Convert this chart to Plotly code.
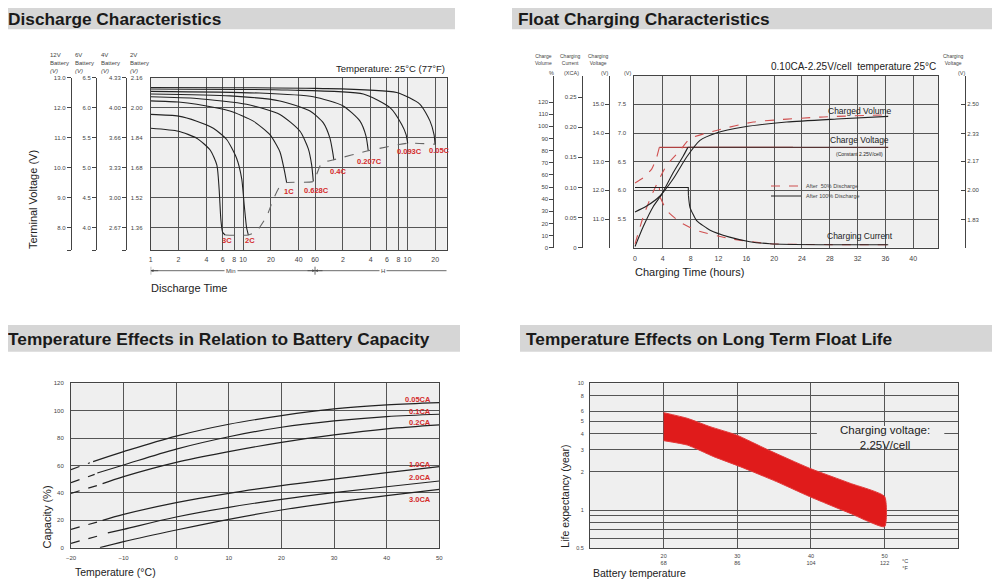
import numpy as np
import plotly.graph_objects as go

FONT = "Liberation Sans, Arial, sans-serif"
BG = "#efefef"
GRID = "#555555"
INK = "#222222"
RED = "#d42b2b"
RDASH = "#d05050"

# the page puts the plot 8px in from the corner, so the figure is 8px smaller
W, H, OFF = 992, 573, 8

# ---------------- discharge characteristics (2V/cell scale) ----------------
v2_ticks = [2.16, 2.00, 1.84, 1.68, 1.52, 1.36]
v12_labels = ["13.0", "12.0", "11.0", "10.0", "9.0", "8.0"]
v6_labels = ["6.5", "6.0", "5.5", "5.0", "4.5", "4.0"]
v4_labels = ["4.33", "4.00", "3.66", "3.33", "3.00", "2.67"]
time_ticks = [1, 2, 4, 6, 8, 10, 20, 40, 60, 120, 240, 360, 480, 600, 1200]
time_labels = ["1", "2", "4", "6", "8", "10", "20", "40", "60", "2", "4", "6", "8", "10", "20"]

dis_curves = {
    "3C": ([1, 2, 3.15, 4.4, 5.2, 5.5, 5.75, 6.0, 6.4],
           [1.89, 1.874, 1.837, 1.774, 1.693, 1.566, 1.40, 1.335, 1.32]),
    "2C": ([1, 2, 3.15, 4.76, 6.64, 8.5, 9.66, 10.3, 10.9, 11.4],
           [1.964, 1.955, 1.928, 1.89, 1.83, 1.73, 1.62, 1.476, 1.36, 1.32]),
    "1C": ([1, 2, 3.15, 7.2, 12.9, 19.5, 25, 27.7, 29.6],
           [2.036, 2.03, 2.018, 1.982, 1.928, 1.856, 1.765, 1.675, 1.60]),
    "0.628C": ([1, 3.15, 10.9, 25, 41.3, 50.8, 55.2, 57.5],
               [2.058, 2.049, 2.018, 1.964, 1.874, 1.78, 1.693, 1.606]),
    "0.4C": ([1, 7.2, 25, 53, 73.8, 87, 93, 96],
             [2.073, 2.063, 2.036, 1.982, 1.919, 1.837, 1.765, 1.72]),
    "0.207C": ([1, 15, 57.5, 121, 184, 214, 226],
               [2.087, 2.078, 2.058, 2.009, 1.928, 1.847, 1.77]),
    "0.093C": ([1, 30, 200, 389, 520, 580, 604],
               [2.10, 2.094, 2.073, 2.00, 1.91, 1.856, 1.81]),
    "0.05C": ([1, 60, 459, 821, 1054, 1164, 1194],
              [2.108, 2.103, 2.081, 2.018, 1.928, 1.856, 1.805]),
}
end_t = [6.4, 11.4, 14, 18, 21.2, 25, 29.6, 57.5, 62, 71, 96, 226, 604, 1194]
end_v = [1.32, 1.32, 1.34, 1.42, 1.51, 1.58, 1.60, 1.606, 1.64, 1.705, 1.722, 1.77, 1.81, 1.805]
dis_label_t = [6.65, 11.9, 31.2, 62.6, 105.6, 232, 629, 1328]
dis_label_v = [1.292, 1.292, 1.555, 1.559, 1.658, 1.712, 1.765, 1.773]
dis_label_txt = ["3C", "2C", "1C", "0.628C", "0.4C", "0.207C", "0.093C", "0.05C"]

# ---------------- float charging characteristics ----------------
hours_ticks = list(range(0, 44, 4))
vol_t_100 = [0, 1.68, 3.59, 5.5, 7.43, 9.34, 11.7, 15.6, 21.8, 29, 36.4]
vol_100 = [29.4, 34.3, 42.6, 56.8, 74.7, 88.4, 94.5, 99.4, 103.5, 106, 108.2]
vol_t_50 = [0, 1.25, 2.6, 4.55, 6.47, 7.9, 11.7, 17, 26.6, 36.4]
vol_50 = [3, 26.6, 45.9, 67.8, 80.1, 89.8, 96.6, 103.5, 107.6, 109.5]
volt_t_100 = [0, 1.19, 2.63, 3.84, 5.5, 6.94, 7.6, 36.4]
volt_100 = [5.02, 5.37, 5.72, 5.93, 6.31, 6.60, 6.75, 6.75]
volt_t_50 = [0, 1.19, 2.4, 3.1, 3.5, 22.7]
volt_50 = [6.13, 6.22, 6.37, 6.57, 6.75, 6.75]
cur_t_100 = [0, 7.66, 7.68, 7.9, 8.86, 10.8, 13.6, 16.5, 19.4, 26.6, 36.4]
cur_100 = [0.10, 0.10, 0.087, 0.067, 0.045, 0.029, 0.0176, 0.010, 0.0066, 0.005, 0.005]
cur_t_50 = [0, 3.5, 3.6, 4.55, 6.47, 8.86, 13.65, 19.4, 36.4]
cur_50 = [0.10, 0.10, 0.084, 0.062, 0.0425, 0.0287, 0.015, 0.0066, 0.005]

v6_ticks = [5.5, 6.0, 6.5, 7.0, 7.5]
pct_ticks = list(range(0, 130, 10))
ca_ticks = [0, 0.05, 0.10, 0.15, 0.20, 0.25]
ca_labels = ["0", "0.05", "0.10", "0.15", "0.20", "0.25"]
v12f_ticks = [11, 12, 13, 14, 15]
cell_ticks = [1.83, 2.00, 2.17, 2.33, 2.50]

# ---------------- temperature vs capacity ----------------
cap_names = ["0.05CA", "0.1CA", "0.2CA", "1.0CA", "2.0CA", "3.0CA"]
cap_dash_t = [[-20, -16.4], [-20, -15.5], [-20, -14.5], [-20, -14.5], [-20, -13.5], []]
cap_dash = [[57, 62], [47.5, 53.5], [39.7, 46], [13.4, 19.3], [3.2, 10], []]
cap_t = [[-15.8, -10, 0, 10, 20, 30, 40, 50],
         [-15, -10, 0, 10, 20, 30, 40, 50],
         [-14, -10, 0, 10, 20, 30, 40, 50],
         [-14, -10, 0, 10, 20, 30, 40, 50],
         [-13, -10, 0, 10, 20, 30, 40, 50],
         [-14.5, -10, 0, 10, 20, 30, 40, 50]]
cap_val = [[62.8, 70.1, 81.5, 90.1, 96.4, 101.3, 104.2, 105.9],
           [54.5, 60.4, 72, 81, 87.9, 92.5, 95.7, 97.4],
           [46.8, 51.9, 62.3, 70.1, 76.9, 82.3, 86.7, 89.6],
           [19.9, 24.3, 32.9, 39.7, 45.3, 50.1, 54.8, 59.2],
           [10.8, 13.4, 22.4, 29.5, 35.3, 40.2, 44.5, 48.7],
           [0, 4.4, 12.9, 20.7, 27.5, 33.1, 38, 42.6]]
cap_label_y = [108.5, 99.5, 91.5, 61, 51, 35.5]

# ---------------- float life ----------------
life_t_up = [20, 23.2, 26.3, 29.9, 34, 39.8, 45.3, 50]
life_up = [5.87, 5.3, 4.55, 3.91, 3.02, 2.14, 1.63, 1.28]
life_t_lo = [20, 23.2, 26.8, 30.4, 35.3, 39.8, 45.3, 50]
life_lo = [3.53, 3.26, 2.64, 2.2, 1.68, 1.28, 0.944, 0.741]
life_ticks = [0.5, 0.6, 0.7, 0.8, 0.9, 1, 2, 3, 4, 5, 6, 8, 10]
life_labels = ["0.5", "", "", "", "", "1", "2", "3", "4", "5", "6", "8", "10"]
temp_c = [20, 30, 40, 50]
temp_f = [68, 86, 104, 122]


def PX(x):
    return (x - OFF) / W


def PY(y):
    return 1 - (y - OFF) / H


fig = go.Figure()

def line(x, y, xa, ya, color=INK, dash=None, shape="spline", smoothing=0.6, width=1.1, **kw):
    fig.add_trace(go.Scatter(x=x, y=y, mode="lines", xaxis=xa, yaxis=ya, hoverinfo="skip",
                             line=dict(color=color, width=width, dash=dash, shape=shape, smoothing=smoothing),
                             **({"showlegend": False} if "name" not in kw else kw)))

# discharge curves
for name, (t, v) in dis_curves.items():
    line(t, v, "x", "y")
line(end_t, end_v, "x", "y", color="#666", dash="dash", smoothing=0.5)

# float charging
line(vol_t_50, vol_50, "x2", "y3", color=RDASH, dash="dash", name="After  50% Discharge", showlegend=True, legend="legend")
line(vol_t_100, vol_100, "x2", "y3", name="After 100% Discharge", showlegend=True, legend="legend2")
line(volt_t_50[:-1], volt_50[:-1], "x2", "y2", color=RDASH, dash="dash", smoothing=0.4)
line(volt_t_50[-2:], volt_50[-2:], "x2", "y2", color="#b04040", shape="linear")
line(volt_t_100[:-1], volt_100[:-1], "x2", "y2", smoothing=0.4)
line(volt_t_100[-2:], volt_100[-2:], "x2", "y2", color="#553333", shape="linear")
line(cur_t_50[:3], cur_50[:3], "x2", "y4", color=RDASH, dash="dash", shape="linear")
line(cur_t_50[2:], cur_50[2:], "x2", "y4", color=RDASH, dash="dash", smoothing=0.5)
line(cur_t_100[:3], cur_100[:3], "x2", "y4", shape="linear")
line(cur_t_100[2:], cur_100[2:], "x2", "y4", smoothing=0.5)

# empty traces so that the scale-only axes get drawn
for xa, ya in [("x", "y9"), ("x", "y10"), ("x", "y11"), ("x2", "y5"), ("x2", "y6")]:
    fig.add_trace(go.Scatter(x=[None], y=[None], mode="lines", xaxis=xa, yaxis=ya, showlegend=False, hoverinfo="skip"))

# capacity
for i in range(len(cap_names)):
    if cap_dash_t[i]:
        line(cap_dash_t[i], cap_dash[i], "x3", "y7", dash="dash", shape="linear", width=1.2)
    line(cap_t[i], cap_val[i], "x3", "y7", width=1.2, smoothing=1)

# life band
fig.add_trace(go.Scatter(x=life_t_up + life_t_lo[::-1], y=life_up + life_lo[::-1], mode="lines", fill="toself",
                         fillcolor="#e01b1b", line=dict(color="#e23a3a", width=1, shape="spline", smoothing=0.5),
                         xaxis="x4", yaxis="y8", showlegend=False, hoverinfo="skip"))

tick_font = dict(family=FONT, size=7, color="#444")
small_font = dict(family=FONT, size=6, color="#444")
tiny_font = dict(family=FONT, size=5.5, color="#444")
plot_common = dict(showgrid=True, gridcolor=GRID, gridwidth=1, showline=True, mirror=True, linecolor="#444",
                   linewidth=1, zeroline=False, tickfont=tick_font, automargin=False,
                   ticks="outside", tickcolor="rgba(0,0,0,0)")

def side_axis(overlay, pos, rng, vals, texts, side="left", ticks="outside"):
    return dict(overlaying=overlay, anchor="free", position=PX(pos), range=rng, side=side, tickmode="array",
                tickvals=vals, ticktext=texts, ticks=ticks, ticklen=4, tickcolor="#444", showline=True,
                linecolor="#444", linewidth=1, showgrid=False, zeroline=False, tickfont=small_font, automargin=False)

def legend_box(y):
    return dict(x=PX(766), y=PY(y), xanchor="left", yanchor="middle", bgcolor="rgba(0,0,0,0)",
                font=dict(family=FONT, size=5.5, color="#444"), itemwidth=30)

dis_rng = [1.24, 2.16]
fig.update_layout(
    template="none",
    width=W, height=H, paper_bgcolor="white", plot_bgcolor=BG,
    margin=dict(l=0, r=0, t=0, b=0, autoexpand=False), font=dict(family=FONT, color=INK),
    xaxis=dict(domain=[PX(150.7), PX(446.7)], anchor="y", type="log", range=[0, 3.203], tickmode="array",
               tickvals=time_ticks, ticktext=time_labels, ticklen=3, **plot_common),
    yaxis=dict(domain=[PY(250), PY(77.7)], anchor="x", range=dis_rng, tickmode="array", tickvals=v2_ticks,
               ticktext=["%.2f" % v for v in v2_ticks], ticklen=6, **{**plot_common, "tickfont": small_font}),
    yaxis9=side_axis("y", 70.7, dis_rng, [1.24] + v2_ticks, [""] + v12_labels),
    yaxis10=side_axis("y", 96, dis_rng, [1.24] + v2_ticks, [""] + v6_labels),
    yaxis11=side_axis("y", 126, dis_rng, [1.24] + v2_ticks, [""] + v4_labels),
    xaxis2=dict(domain=[PX(634.3), PX(938.3)], anchor="y2", range=[-0.1, 43.6], tickmode="array",
                tickvals=hours_ticks, ticklen=4, **plot_common),
    yaxis2=dict(domain=[PY(247.7), PY(75.7)], anchor="x2", range=[5.0, 8.0], tickmode="array", tickvals=v6_ticks,
                ticktext=["%.1f" % v for v in v6_ticks], ticklen=6, **{**plot_common, "tickfont": small_font}),
    yaxis3=side_axis("y2", 553.3, [0, 141.7], pct_ticks, [str(p) for p in pct_ticks]),
    yaxis4=side_axis("y2", 581.7, [0, 0.2855], ca_ticks, ca_labels),
    yaxis5=side_axis("y2", 609.3, [10, 16], v12f_ticks, ["%.1f" % v for v in v12f_ticks]),
    yaxis6=side_axis("y2", 965, [5 / 3, 8 / 3], cell_ticks, ["%.2f" % v for v in cell_ticks], side="right", ticks="inside"),
    xaxis3=dict(domain=[PX(71), PX(439.3)], anchor="y7", range=[-20, 50], dtick=10, ticklen=4,
                **{**plot_common, "tickfont": small_font}),
    yaxis7=dict(domain=[PY(547.7), PY(383.3)], anchor="x3", range=[0, 120], dtick=20, ticklen=5,
                **{**plot_common, "tickfont": small_font}),
    xaxis4=dict(domain=[PX(590), PX(958.3)], anchor="y8", range=[10, 60], tickmode="array", tickvals=temp_c,
                ticktext=["%d<br>%d" % (c, f) for c, f in zip(temp_c, temp_f)], ticklen=2,
                **{**plot_common, "tickfont": tiny_font}),
    yaxis8=dict(domain=[PY(548.3), PY(383.3)], anchor="x4", type="log", range=[np.log10(0.5), 1], tickmode="array",
                tickvals=life_ticks, ticktext=life_labels, ticklen=4, **{**plot_common, "tickfont": tiny_font}),
    legend=legend_box(186),
    legend2=legend_box(196),
)

# header bars
headers = [("Discharge Characteristics", 2, 455, 2, 29.3, 19.2),
           ("Float Charging Characteristics", 512, 1000, 2, 29.3, 19.2),
           ("Temperature Effects in Relation to Battery Capacity", 2, 460, 325, 351.7, 338.5),
           ("Temperature Effects on Long Term Float Life", 520, 998, 325, 351.7, 338.5)]
for title, x0, x1, y0, y1, ty in headers:
    fig.add_shape(type="rect", xref="paper", yref="paper", x0=PX(x0), x1=PX(x1), y0=PY(y1), y1=PY(y0),
                  fillcolor="#d6d6d6", line_width=0, layer="below")
    fig.add_annotation(text="<b>%s</b>" % title, xref="paper", yref="paper", x=PX(x0 + 5), y=PY(ty),
                       xanchor="left", yanchor="middle", showarrow=False, borderpad=0,
                       font=dict(family=FONT, size=17.3, color="#1a1a1a"))

def ann(text, x, y, size=9, xanchor="center", yanchor="middle", xref="paper", yref="paper", color=INK, **kw):
    if xref == "paper":
        x = PX(x)
    if yref == "paper":
        y = PY(y)
    fig.add_annotation(text=text, x=x, y=y, xref=xref, yref=yref, xanchor=xanchor, yanchor=yanchor,
                       showarrow=False, font=dict(family=FONT, size=size, color=color), **kw)

# discharge texts
for lab, xp in [("12V", 48), ("6V", 73), ("4V", 99), ("2V", 128)]:
    ann("%s<br>Battery<br><i>(V)</i>" % lab, xp, 50, size=6, xanchor="left", yanchor="top", align="left", color="#444")
ann("Temperature: 25°C (77°F)", 446.7, 68.5, size=9.5, xanchor="right")
ann("Terminal Voltage (V)", 33, 200, size=11, textangle=-90)
ann("Discharge Time", 149, 288, size=11, xanchor="left")
for txt, t, v in zip(dis_label_txt, dis_label_t, dis_label_v):
    ann("<b>%s</b>" % txt, np.log10(t), v, size=7.5, xref="x", yref="y", color=RED)

# Min / H arrows under the time axis
yarr = PY(270.7)
for a, b in [(1, 60), (60, 1597)]:
    fig.add_shape(type="line", xref="x", yref="paper", x0=a, x1=b, y0=yarr, y1=yarr, line=dict(color="#444", width=0.8))
    for tip, off in [(a, 9), (b, -9)]:
        fig.add_annotation(x=np.log10(tip), y=yarr, xref="x", yref="paper", ax=off, ay=0, text="", showarrow=True,
                           arrowhead=2, arrowsize=0.7, arrowwidth=0.8, arrowcolor="#444")
for tick in [1, 60]:
    fig.add_shape(type="line", xref="x", yref="paper", x0=tick, x1=tick, y0=yarr - 0.007, y1=yarr + 0.007,
                  line=dict(color="#444", width=0.8))
fig.add_annotation(text="Min", x=np.log10(7.4), y=yarr, xref="x", yref="paper", showarrow=False, bgcolor="white",
                   font=dict(family=FONT, size=6, color="#444"))
fig.add_annotation(text="H", x=np.log10(330), y=yarr, xref="x", yref="paper", showarrow=False, bgcolor="white",
                   font=dict(family=FONT, size=6, color="#444"))

# float texts
ann("0.10CA-2.25V/cell  temperature 25°C", 938.3, 66, size=10, xanchor="right")
ann("Charging Time (hours)", 633, 272, size=11, xanchor="left")
ann("Charged Volume", 32.3, 7.39, size=8.5, xref="x2", yref="y2")
ann("Charge Voltage", 32.3, 6.88, size=8.5, xref="x2", yref="y2")
ann("(Constant 2.25V/cell)", 32.3, 6.64, size=5, xref="x2", yref="y2")
ann("Charging Current", 32.3, 5.21, size=8.5, xref="x2", yref="y2")
for txt, xp in [("Charge<br>Volume", 543), ("Charging<br>Current", 570), ("Charging<br>Voltage", 598.3), ("Charging<br>Voltage", 953.3)]:
    ann(txt, xp, 51, size=5, yanchor="top", color="#444")
for txt, xp in [("%", 551.7), ("(XCA)", 571.7), ("(V)", 605), ("(V)", 628.3), ("(V)", 961.7)]:
    ann(txt, xp, 72.7, size=5.5, color="#444")

# capacity texts
for txt, y in zip(cap_names, cap_label_y):
    ann("<b>%s</b>" % txt, 48.75, y, size=7.5, xref="x3", yref="y7", xanchor="right", color=RED)
ann("Temperature (°C)", 72.7, 572, size=10.5, xanchor="left")
ann("Capacity (%)", 46.7, 516.7, size=11, textangle=-90)

# life texts
fig.add_shape(type="rect", xref="x4", yref="y8", x0=40.8, x1=58.1, y0=3.3, y1=4.6, fillcolor=BG, line_width=0, layer="above")
ann("Charging voltage:<br>2.25V/cell", 50, np.log10(3.77), size=11.5, xref="x4", yref="y8")
ann("°C<br>°F", 905, 556, size=5.5, yanchor="top", color="#444")
ann("Battery temperature", 590.7, 573, size=10.5, xanchor="left")
ann("Life expectancy (year)", 565, 496.7, size=10.5, textangle=-90)

fig.write_html("out.html")
